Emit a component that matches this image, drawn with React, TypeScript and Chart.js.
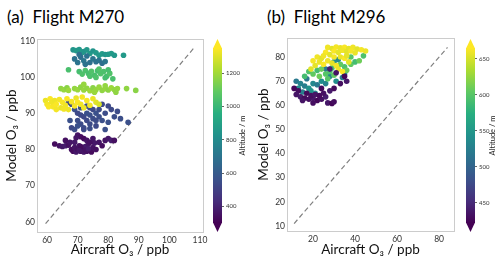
import React, { useEffect, useRef } from "react";
import { Chart, registerables } from "chart.js";
Chart.register(...registerables);

const FONT = 'Lato, "Open Sans", "DejaVu Sans", sans-serif';

// ---------- Panel (a): Flight M270 ----------
const aircraftA = [
  // low altitude (purple)
  62.5, 64, 65, 66, 67, 67.5, 68, 68.5, 69, 69.5, 70, 70.5, 71, 71.5, 72, 72.5, 73, 73.5, 74, 74.5, 75, 75.5, 76, 77, 78, 79, 80, 81, 82, 70, 71, 72, 73, 69, 74, 75, 71, 72.5, 70.5, 73.5, 66, 69.5,
  // dark blue
  67, 68, 69, 70, 70, 71, 71, 72, 72, 73, 73, 73, 74, 74, 75, 75, 76, 76, 77, 77, 78, 78, 79, 80, 81, 82, 83, 86.5, 68, 69, 70, 72, 74, 76, 79, 71, 74, 67.5, 80, 84,
  // yellow
  59.5, 60, 61, 61.5, 62, 62.5, 63, 64, 64.5, 65, 66, 66.5, 67, 68, 69, 69.5, 70, 71, 71.5, 72, 73, 74, 75, 76, 77, 63, 60.5, 65.5,
  // light green
  64.5, 65.5, 66.5, 67, 69, 70, 71, 72, 73, 74, 75, 76, 77, 78, 79, 80, 81, 82, 83, 86, 89, 75.5, 79, 82.5, 72,
  // green
  67, 70.5, 71.5, 72.5, 73.5, 74.5, 75.5, 76.5, 77.5, 78.5, 79.5, 80.5, 81.5, 79, 76, 74, 80, 77,
  // teal (upper)
  68.5, 69.5, 70.5, 71.5, 72, 73, 74, 75, 76, 77, 78, 79, 80, 81, 82, 85,
  // dark teal
  69, 70, 71, 72, 73, 74, 75, 76, 77, 78, 79, 72.5, 70.5,
];
const modelA = [
  81.5, 81, 80.8, 81, 81.2, 82, 80, 79.5, 80.5, 79.3, 80, 81, 79.5, 80.2, 79.3, 80.8, 79.5, 81.5, 80, 79.3, 80.5, 81.8, 80, 82, 81, 82.5, 83, 82.5, 82.5, 84, 83.5, 83, 82.5, 82, 82, 83, 80.8, 79.8, 79.7, 80.2, 82.5, 83.2,
  93, 92.5, 91, 90, 88, 87, 91.5, 89, 86, 90, 88, 92, 87, 89.5, 91, 88.5, 90, 86.5, 89, 91, 88, 92.5, 90, 87.5, 91, 89, 90.5, 87.5, 86, 85.5, 86.5, 85.5, 85.8, 88, 85.5, 89.5, 91.5, 88, 92, 88.5,
  93.5, 92.5, 94, 93, 91.8, 93.5, 92.5, 93.8, 91.5, 93, 92.2, 94, 91, 93.2, 92, 94.2, 93, 92.5, 94.5, 91.5, 93.5, 92.2, 94, 93, 92.5, 91, 91.8, 91.2,
  96.8, 96.5, 97, 96.3, 96.8, 96.5, 97.2, 96.4, 96.9, 96.2, 97, 96.5, 97.2, 96.3, 96.8, 96.4, 97, 96.5, 96.8, 96.8, 96.3, 95.8, 97.6, 95.8, 98,
  102, 101.5, 100.8, 101.8, 101, 101.6, 100.5, 101.7, 100.9, 101.5, 100.2, 101, 99.5, 99.8, 99.9, 100.2, 102, 102.2,
  107.5, 107.3, 107.6, 106.8, 107, 107.5, 106.5, 107.2, 106.7, 106, 106.4, 106.2, 106.3, 106.5, 106, 106,
  105, 104, 105.5, 104.5, 105.8, 104, 105, 104.2, 104.6, 103.8, 104.3, 103.5, 106.2,
];
const altitudeA = [
  335, 350, 365, 380, 345, 360, 340, 330, 355, 370, 345, 360, 335, 350, 365, 380, 345, 360, 340, 330, 355, 370, 345, 360, 335, 350, 365, 380, 345, 360, 340, 330, 355, 370, 345, 360, 335, 350, 365, 380, 345, 360,
  530, 545, 560, 535, 550, 540, 555, 530, 545, 560, 535, 550, 540, 555, 530, 545, 560, 535, 550, 540, 555, 530, 545, 560, 535, 550, 540, 555, 530, 545, 560, 535, 550, 540, 555, 530, 545, 560, 535, 550,
  1320, 1335, 1345, 1330, 1340, 1325, 1345, 1335, 1320, 1340, 1330, 1345, 1325, 1335, 1340, 1320, 1345, 1330, 1335, 1325, 1340, 1330, 1320, 1300, 1290, 1335, 1345, 1330,
  1170, 1180, 1160, 1190, 1175, 1185, 1165, 1180, 1170, 1190, 1160, 1175, 1185, 1170, 1180, 1165, 1190, 1175, 1180, 1170, 1160, 1185, 1175, 1170, 1180,
  1040, 1030, 1050, 1045, 1035, 1055, 1040, 1030, 1050, 1045, 1035, 1055, 1040, 1030, 1050, 1045, 1035, 1055,
  840, 860, 850, 870, 845, 855, 865, 840, 860, 850, 870, 845, 855, 865, 850, 860,
  690, 700, 680, 710, 695, 685, 705, 690, 700, 680, 710, 695, 685,
];

// ---------- Panel (b): Flight M296 ----------
const aircraftB = [
  // teal
  12, 14, 13, 16, 18, 20, 22, 24, 26, 15, 19, 21, 17, 28, 31, 34, 30, 32, 26, 35,
  // green
  18, 20, 22, 24, 26, 28, 30, 16, 23, 27, 35, 38, 40, 42, 38, 44, 33, 29, 36,
  // yellow
  27, 29, 31, 33, 35, 37, 39, 41, 43, 45, 30, 32, 34, 36, 38, 40, 26, 28, 22, 24, 20, 23, 25, 21, 27, 29, 31, 33, 35, 37, 25, 19, 30, 32, 34, 36,
  // purple
  11, 13, 12, 14, 16, 18, 20, 22, 24, 26, 17, 19, 21, 23, 25, 27, 29, 30, 15, 28, 30, 33, 36, 35, 31, 28, 24, 20,
];
const modelB = [
  70, 69, 67, 68, 67, 69, 68.5, 70, 69, 65.5, 66, 65, 71, 72, 70, 71.5, 78, 79, 75, 73,
  74, 73, 74.5, 75, 73, 74, 72.5, 72, 72, 71, 76, 77, 78, 78.5, 80, 80.5, 77, 75.5, 74.5,
  84, 83.5, 84.2, 83.8, 84, 83.5, 84, 83.3, 83, 82.5, 82.5, 82, 82.8, 82.2, 82.5, 81.8, 82, 81, 80, 79.5, 78.5, 78, 77, 76.5, 78.5, 77.5, 76.5, 80, 79.5, 78, 80.5, 75, 80, 75, 74, 80.5,
  67, 66, 64.5, 63.5, 63, 62.5, 63, 62, 62.5, 63.5, 65, 64, 64.5, 64, 65, 61, 60.8, 61.5, 62, 66, 67, 69, 70, 72, 73.5, 75, 67, 61,
];
const altitudeB = [
  520, 530, 540, 525, 545, 535, 520, 540, 530, 525, 545, 535, 520, 530, 540, 525, 545, 535, 520, 530,
  595, 605, 590, 610, 600, 595, 605, 590, 610, 600, 595, 605, 590, 610, 600, 595, 605, 590, 610,
  660, 655, 662, 658, 664, 656, 660, 655, 662, 658, 664, 656, 660, 655, 662, 658, 664, 656, 660, 655, 662, 658, 664, 656, 660, 655, 662, 658, 664, 656, 660, 655, 662, 658, 664, 656,
  425, 430, 435, 440, 428, 432, 438, 426, 434, 442, 427, 431, 436, 429, 433, 437, 425, 430, 435, 440, 428, 432, 438, 426, 434, 442, 427, 431,
];

// axis ranges and ticks
const xTicksA = [60, 70, 80, 90, 100, 110];
const yTicksA = [60, 70, 80, 90, 100, 110];
const cbarTicksA = [400, 600, 800, 1000, 1200];
const xTicksB = [20, 40, 60, 80];
const yTicksB = [10, 20, 30, 40, 50, 60, 70, 80];
const cbarTicksB = [450, 500, 550, 600, 650];
const oneToOneA = [59.5, 108.2];
const oneToOneB = [11, 84];

const VIRIDIS = [
  [68, 1, 84], [71, 45, 123], [59, 82, 139], [44, 114, 142], [33, 145, 140],
  [40, 174, 128], [94, 201, 98], [173, 220, 48], [253, 231, 37],
];
function viridis(t: number): string {
  const c = Math.max(0, Math.min(1, t)) * (VIRIDIS.length - 1);
  const i = Math.min(VIRIDIS.length - 2, Math.floor(c));
  const f = c - i;
  const a = VIRIDIS[i], b = VIRIDIS[i + 1];
  const m = (k: number) => Math.round(a[k] + (b[k] - a[k]) * f);
  return `rgb(${m(0)},${m(1)},${m(2)})`;
}

type ScatterProps = {
  left: number; top: number; width: number; height: number;
  padTop: number; padRight: number; xAxisH: number; yAxisW: number;
  xs: number[]; ys: number[]; alts: number[]; vmin: number; vmax: number;
  xMin: number; xMax: number; yMin: number; yMax: number;
  xTicks: number[]; yTicks: number[]; diag: number[];
  yTitlePad: number;
};

const framePlugin = {
  id: "frame",
  afterDraw(chart: any) {
    const { ctx, chartArea: a } = chart;
    ctx.save();
    ctx.strokeStyle = "#cccccc";
    ctx.lineWidth = 1;
    ctx.strokeRect(Math.round(a.left) + 0.5, Math.round(a.top) + 0.5, Math.round(a.right - a.left), Math.round(a.bottom - a.top));
    ctx.restore();
  },
};

function ScatterPanel(p: ScatterProps) {
  const ref = useRef<HTMLCanvasElement>(null);
  useEffect(() => {
    const pts = p.xs.map((x, i) => ({ x, y: p.ys[i] }));
    const cols = p.alts.map((a) => viridis((a - p.vmin) / (p.vmax - p.vmin)));
    const tickFont = { family: FONT, size: 8.5 };
    const chart = new Chart(ref.current!, {
      type: "scatter",
      data: {
        datasets: [
          {
            data: pts,
            backgroundColor: cols,
            borderWidth: 0,
            pointRadius: 2.8,
            pointHoverRadius: 2.8,
          } as any,
          {
            data: p.diag.map((v) => ({ x: v, y: v })),
            showLine: true,
            borderColor: "#808080",
            borderWidth: 1.2,
            borderDash: [5, 3],
            pointRadius: 0,
            fill: false,
          } as any,
        ],
      },
      options: {
        animation: false,
        responsive: false,
        events: [],
        layout: { padding: { left: 0, right: p.padRight, top: p.padTop, bottom: 0 } },
        plugins: { legend: { display: false }, tooltip: { enabled: false } },
        scales: {
          x: {
            type: "linear", min: p.xMin, max: p.xMax,
            grid: { display: false, drawTicks: false },
            border: { display: false },
            ticks: { font: tickFont, color: "#333", padding: 3, maxRotation: 0, callback: (v: any) => String(v) },
            afterBuildTicks: (s: any) => { s.ticks = p.xTicks.map((v) => ({ value: v })); },
            afterFit: (s: any) => { s.height = p.xAxisH; },
            title: { display: true, text: "Aircraft O₃ / ppb", font: { family: FONT, size: 13.5 }, color: "#111", padding: { top: 0, bottom: 6 } },
          },
          y: {
            type: "linear", min: p.yMin, max: p.yMax,
            grid: { display: false, drawTicks: false },
            border: { display: false },
            ticks: { font: tickFont, color: "#333", padding: 2, callback: (v: any) => String(v) },
            afterBuildTicks: (s: any) => { s.ticks = p.yTicks.map((v) => ({ value: v })); },
            afterFit: (s: any) => { s.width = p.yAxisW; },
            title: { display: true, text: "Model O₃ / ppb", font: { family: FONT, size: 13.5 }, color: "#111", padding: { top: p.yTitlePad, bottom: 0 } },
          },
        },
      } as any,
      plugins: [framePlugin],
    });
    return () => chart.destroy();
  }, []);
  return (
    <canvas ref={ref} width={p.width} height={p.height}
      style={{ position: "absolute", left: p.left, top: p.top, width: p.width, height: p.height }} />
  );
}

type CbarProps = { barLeft: number; top: number; width: number; height: number; vmin: number; vmax: number; ticks: number[]; labelX: number };

function Colorbar(p: CbarProps) {
  const ref = useRef<HTMLCanvasElement>(null);
  useEffect(() => {
    const padLeft = 8, barW = 9, padTop = 18, padBottom = 17;
    const cbarPlugin = {
      id: "cbar",
      beforeDatasetsDraw(chart: any) {
        const { ctx, chartArea: a } = chart;
        ctx.save();
        const g = ctx.createLinearGradient(0, a.bottom, 0, a.top);
        VIRIDIS.forEach((c, i) => g.addColorStop(i / (VIRIDIS.length - 1), `rgb(${c[0]},${c[1]},${c[2]})`));
        ctx.fillStyle = g;
        ctx.fillRect(a.left, a.top, a.right - a.left, a.bottom - a.top);
        const mid = (a.left + a.right) / 2;
        ctx.fillStyle = "rgb(253,231,37)";
        ctx.beginPath();
        ctx.moveTo(a.left, a.top + 0.5); ctx.lineTo(a.right, a.top + 0.5); ctx.lineTo(mid, a.top - 9); ctx.closePath(); ctx.fill();
        ctx.fillStyle = "rgb(68,1,84)";
        ctx.beginPath();
        ctx.moveTo(a.left, a.bottom - 0.5); ctx.lineTo(a.right, a.bottom - 0.5); ctx.lineTo(mid, a.bottom + 9); ctx.closePath(); ctx.fill();
        ctx.restore();
      },
      afterDraw(chart: any) {
        const { ctx, chartArea: a } = chart;
        ctx.save();
        ctx.translate(p.labelX, (a.top + a.bottom) / 2);
        ctx.rotate(-Math.PI / 2);
        ctx.font = `7.5px ${FONT}`;
        ctx.fillStyle = "#222";
        ctx.textAlign = "center";
        ctx.textBaseline = "middle";
        ctx.fillText("Altitude / m", 0, 0);
        ctx.restore();
      },
    };
    const chart = new Chart(ref.current!, {
      type: "scatter",
      data: { datasets: [] },
      options: {
        animation: false,
        responsive: false,
        events: [],
        layout: { padding: { left: padLeft, right: 0, top: padTop, bottom: padBottom } },
        plugins: { legend: { display: false }, tooltip: { enabled: false } },
        scales: {
          x: { display: false, min: 0, max: 1 },
          y: {
            position: "right", min: p.vmin, max: p.vmax,
            grid: { display: true, drawOnChartArea: false, drawTicks: true, tickLength: 2, color: "#666" },
            border: { display: false },
            ticks: { font: { family: FONT, size: 6 }, color: "#333", padding: 2, callback: (v: any) => String(v) },
            afterBuildTicks: (s: any) => { s.ticks = p.ticks.map((v) => ({ value: v })); },
            afterFit: (s: any) => { s.width = p.width - padLeft - barW; },
          },
        },
      } as any,
      plugins: [cbarPlugin],
    });
    return () => chart.destroy();
  }, []);
  return (
    <canvas ref={ref} width={p.width} height={p.height}
      style={{ position: "absolute", left: p.barLeft - 8, top: p.top, width: p.width, height: p.height }} />
  );
}

const titleStyle: React.CSSProperties = {
  position: "absolute", top: 6, fontFamily: FONT, fontSize: 17, whiteSpace: "pre", color: "#000", lineHeight: "normal",
};

export default function App() {
  return (
    <div style={{ position: "absolute", left: 0, top: 0, width: 500, height: 264, background: "#fff", overflow: "hidden" }}>
      <div style={{ ...titleStyle, left: 7 }}>(a)  Flight M270</div>
      <div style={{ ...titleStyle, left: 267 }}>(b)  Flight M296</div>
      <ScatterPanel left={0} top={28} width={212} height={236} padTop={11} padRight={9} xAxisH={32} yAxisW={37}
        xs={aircraftA} ys={modelA} alts={altitudeA} vmin={300} vmax={1350}
        xMin={56.7} xMax={111} yMin={57.2} yMax={110.5}
        xTicks={xTicksA} yTicks={yTicksA} diag={oneToOneA} yTitlePad={3.5} />
      <Colorbar barLeft={213} top={30} width={50} height={210} vmin={300} vmax={1350} ticks={cbarTicksA} labelX={38} />
      <ScatterPanel left={250} top={28} width={212} height={236} padTop={10} padRight={8} xAxisH={33} yAxisW={37}
        xs={aircraftB} ys={modelB} alts={altitudeB} vmin={422} vmax={665}
        xMin={7.6} xMax={87.1} yMin={7.9} yMax={87.9}
        xTicks={xTicksB} yTicks={yTicksB} diag={oneToOneB} yTitlePad={6} />
      <Colorbar barLeft={466} top={30} width={42} height={210} vmin={422} vmax={665} ticks={cbarTicksB} labelX={35} />
    </div>
  );
}
